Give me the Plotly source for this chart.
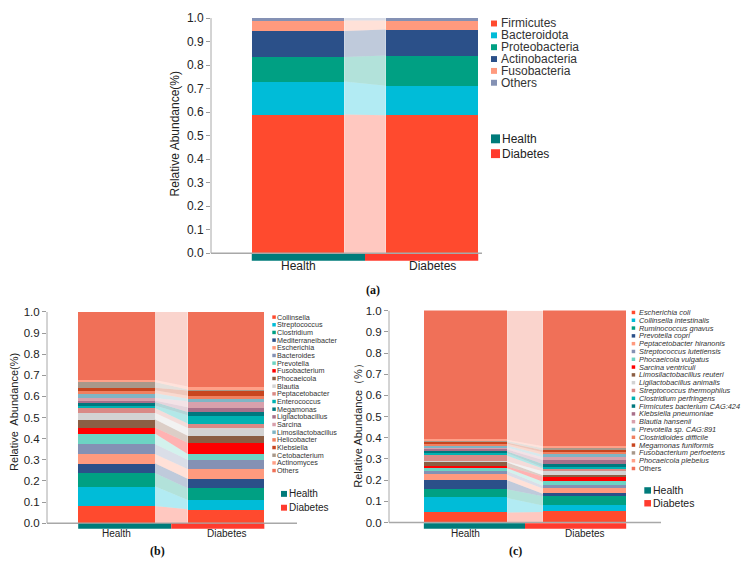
import numpy as np
import plotly.graph_objects as go

W, H = 746, 564
FONT = "Arial, Liberation Sans, sans-serif"

# ---------------- data ----------------
groups = ["Health", "Diabetes"]
group_colors = ["#007B7A", "#FF3B2E"]

phyla = ["Firmicutes", "Bacteroidota", "Proteobacteria", "Actinobacteria", "Fusobacteria", "Others"]
phyla_health = [0.590, 0.140, 0.104, 0.111, 0.045, 0.010]
phyla_diabetes = [0.587, 0.125, 0.129, 0.110, 0.039, 0.010]
phyla_colors = ["#FF4A2E", "#00BCD8", "#00A083", "#2B5089", "#FF9A7E", "#8491B4"]

genera = ["Collinsella", "Streptococcus", "Clostridium", "Mediterraneibacter", "Escherichia",
          "Bacteroides", "Prevotella", "Fusobacterium", "Phocaeicola", "Blautia",
          "Peptacetobacter", "Enterococcus", "Megamonas", "Ligilactobacillus", "Sarcina",
          "Limosilactobacillus", "Helicobacter", "Klebsiella", "Cetobacterium", "Actinomyces", "Others"]
genus_health = [0.082, 0.093, 0.063, 0.046, 0.044, 0.047, 0.050, 0.028, 0.039, 0.031,
                0.022, 0.012, 0.016, 0.008, 0.012, 0.022, 0.014, 0.012, 0.027, 0.010, 0.322]
genus_diabetes = [0.066, 0.044, 0.056, 0.044, 0.047, 0.043, 0.028, 0.053, 0.033, 0.037,
                  0.021, 0.039, 0.015, 0.023, 0.028, 0.012, 0.014, 0.025, 0.005, 0.014, 0.353]

species = ["Escherichia coli", "Collinsella intestinalis", "Ruminococcus gnavus", "Prevotella copri",
           "Peptacetobacter hiranonis", "Streptococcus lutetiensis", "Phocaeicola vulgatus",
           "Sarcina ventriculi", "Limosilactobacillus reuteri", "Ligilactobacillus animalis",
           "Streptococcus thermophilus", "Clostridium perfringens", "Firmicutes bacterium CAG:424",
           "Klebsiella pneumoniae", "Blautia hansenii", "Prevotella sp. CAG:891",
           "Clostridioides difficile", "Megamonas funiformis", "Fusobacterium perfoetens",
           "Phocaeicola plebeius", "Others"]
species_health = [0.047, 0.069, 0.041, 0.043, 0.025, 0.018, 0.013, 0.009, 0.019, 0.004,
                  0.027, 0.012, 0.009, 0.009, 0.009, 0.009, 0.009, 0.006, 0.006, 0.006, 0.610]
species_diabetes = [0.050, 0.031, 0.043, 0.012, 0.025, 0.013, 0.019, 0.024, 0.006, 0.019,
                    0.013, 0.006, 0.015, 0.019, 0.012, 0.013, 0.012, 0.009, 0.010, 0.009, 0.640]

palette21 = ["#FF4A2E", "#00BCD8", "#00A083", "#2B5089", "#FF9A7E", "#8491B4", "#6DD3C3",
             "#FF0000", "#8B5E44", "#D3D3D3", "#D98A86", "#00B2B2", "#00787F", "#A8708A",
             "#D8A0AC", "#7FB5C5", "#F08060", "#C8451F", "#A8988A", "#FFA088", "#F07058"]

y_ticks = [round(v, 1) for v in np.arange(0, 1.01, 0.1)]
y_ticktext = [f"{v:.1f}" for v in y_ticks]


def rgba(hexc, a):
    hexc = hexc.lstrip("#")
    r, g, b = int(hexc[0:2], 16), int(hexc[2:4], 16), int(hexc[4:6], 16)
    return f"rgba({r},{g},{b},{a})"


def px(x):
    return x / W


def py(y):
    return 1 - y / H


panels = [
    dict(tag="(a)", xa="x", ya="y", cats=phyla, h=phyla_health, d=phyla_diabetes, colors=phyla_colors,
         xpx=(211, 482), ytop=11, yzero=249.3, centers=(298, 432), bw=0.69, gb=(-0.003, -0.032),
         tickfs=12, xfs=12, xly=262, title="Relative Abundance(%)", tpos=(175, 129), tfs=12,
         leg=dict(sq=(491, 497), tx=500, y0=16.7, step=12.0, fs=12, italic=False,
                  gsq=(491, 500), gtx=501, gy=(133.5, 148.5), gfs=12, gsz=9),
         lab=(373, 287)),
    dict(tag="(b)", xa="x2", ya="y2", cats=genera, h=genus_health, d=genus_diabetes, colors=palette21,
         xpx=(47, 297), ytop=308.5, yzero=522.7, centers=(116.5, 226), bw=0.70, gb=(-0.003, -0.026),
         tickfs=11.5, xfs=10, xly=533, title="Relative  Abundance(%)", tpos=(14, 410), tfs=11,
         leg=dict(sq=(272.3, 275.8), tx=276, y0=314, step=7.77, fs=7.2, italic=False,
                  gsq=(281, 287), gtx=287.5, gy=(493, 507), gfs=10, gsz=6),
         lab=(157, 551)),
    dict(tag="(c)", xa="x3", ya="y3", cats=species, h=species_health, d=species_diabetes, colors=palette21,
         xpx=(389, 661), ytop=307.3, yzero=522, centers=(465.5, 584.5), bw=0.70, gb=(-0.003, -0.029),
         tickfs=11.5, xfs=10, xly=533, title="Relative Abundance（%）", tpos=(358, 421), tfs=11,
         leg=dict(sq=(631.7, 635.2), tx=638, y0=309.3, step=7.9, fs=7.4, italic=True,
                  gsq=(644.3, 651), gtx=651.5, gy=(489.5, 502.5), gfs=10.5, gsz=6.5),
         lab=(515, 551)),
]

fig = go.Figure()
shapes = []
annotations = []
layout_axes = {}
YMIN = -0.04

for p in panels:
    xa, ya = p["xa"], p["ya"]
    bw = p["bw"]
    h = np.array(p["h"], dtype=float)
    d = np.array(p["d"], dtype=float)
    ch = np.concatenate([[0], np.cumsum(h)])
    cd = np.concatenate([[0], np.cumsum(d)])
    # flows between bars
    for i, (cat, col) in enumerate(zip(p["cats"], p["colors"])):
        fig.add_trace(go.Scatter(
            x=[bw / 2, 1 - bw / 2, 1 - bw / 2, bw / 2, bw / 2],
            y=[ch[i], cd[i], cd[i + 1], ch[i + 1], ch[i]],
            fill="toself", fillcolor=rgba(col, 0.3), mode="lines", line=dict(width=0),
            xaxis=xa, yaxis=ya, showlegend=False, hoverinfo="skip"))
    # stacked bars
    for i, (cat, col) in enumerate(zip(p["cats"], p["colors"])):
        fig.add_trace(go.Bar(
            x=[0, 1], y=[h[i], d[i]], width=bw, name=cat, marker=dict(color=col, line=dict(width=0)),
            xaxis=xa, yaxis=ya, showlegend=False))

    # axes
    c0, c1 = p["centers"]
    unit = c1 - c0
    xr = [(p["xpx"][0] - c0) / unit, (p["xpx"][1] - c0) / unit]
    uy = p["yzero"] - p["ytop"]
    ybot_px = p["yzero"] + (-YMIN) * uy
    xkey = "xaxis" if xa == "x" else "xaxis" + xa[1:]
    ykey = "yaxis" if ya == "y" else "yaxis" + ya[1:]
    layout_axes[xkey] = dict(domain=[px(p["xpx"][0]), px(p["xpx"][1])], range=xr, anchor=ya,
                             showticklabels=False, showgrid=False, zeroline=False,
                             showline=False, ticks="", fixedrange=True)
    layout_axes[ykey] = dict(domain=[py(ybot_px), py(p["ytop"])], range=[YMIN, 1.001], anchor=xa,
                             tickvals=y_ticks, ticktext=y_ticktext, showgrid=False, zeroline=False,
                             showline=False, ticks="outside", ticklen=4, tickcolor="#9A9A9A", tickwidth=1,
                             tickfont=dict(size=p["tickfs"], color="#222", family=FONT), fixedrange=True)
    # group category labels under the bars
    for gi, g in enumerate(groups):
        annotations.append(dict(text=g, x=gi, y=py(p["xly"]), xref=xa, yref="paper", showarrow=False,
                                xanchor="center", yanchor="middle", borderpad=0,
                                font=dict(size=p["xfs"], color="#222", family=FONT)))
    # axis lines
    shapes.append(dict(type="line", xref=f"{xa} domain", yref=ya, x0=0, x1=0, y0=0, y1=1,
                       line=dict(color="#A8A8A8", width=1)))
    shapes.append(dict(type="line", xref=f"{xa} domain", yref=ya, x0=0, x1=1, y0=0, y1=0,
                       line=dict(color="#A8A8A8", width=1.5)))
    # group indicator bar
    g0, g1 = p["gb"]
    shapes.append(dict(type="rect", xref=xa, yref=ya, x0=-bw / 2, x1=0.5, y0=g1, y1=g0,
                       fillcolor=group_colors[0], line=dict(width=0)))
    shapes.append(dict(type="rect", xref=xa, yref=ya, x0=0.5, x1=1 + bw / 2, y0=g1, y1=g0,
                       fillcolor=group_colors[1], line=dict(width=0)))

    # y title
    annotations.append(dict(text=p["title"], x=px(p["tpos"][0]), y=py(p["tpos"][1]), xref="paper",
                            yref="paper", showarrow=False, textangle=-90, xanchor="center",
                            yanchor="middle", font=dict(size=p["tfs"], color="#222", family=FONT)))
    # panel label
    annotations.append(dict(text=f"<b>{p['tag']}</b>", x=px(p["lab"][0]), y=py(p["lab"][1]), xref="paper",
                            yref="paper", showarrow=False, xanchor="center", yanchor="middle",
                            font=dict(size=12, color="#111", family="Liberation Serif, serif")))

    # legend
    L = p["leg"]
    for i, (cat, col) in enumerate(zip(p["cats"], p["colors"])):
        yc = L["y0"] + i * L["step"]
        s = L["sq"][1] - L["sq"][0]
        shapes.append(dict(type="rect", xref="paper", yref="paper", x0=px(L["sq"][0]), x1=px(L["sq"][1]),
                           y0=py(yc + s / 2), y1=py(yc - s / 2), fillcolor=col, line=dict(width=0)))
        txt = f"<i>{cat}</i>" if (L["italic"] and cat != "Others") else cat
        annotations.append(dict(text=txt, x=px(L["tx"]), y=py(yc), xref="paper", yref="paper",
                                showarrow=False, xanchor="left", yanchor="middle", borderpad=0,
                                font=dict(size=L["fs"], color="#333", family=FONT)))
    for g, gc, gy in zip(groups, group_colors, L["gy"]):
        s = L["gsz"]
        shapes.append(dict(type="rect", xref="paper", yref="paper", x0=px(L["gsq"][0]), x1=px(L["gsq"][1]),
                           y0=py(gy + s / 2), y1=py(gy - s / 2), fillcolor=gc, line=dict(width=0)))
        annotations.append(dict(text=g, x=px(L["gtx"]), y=py(gy), xref="paper", yref="paper",
                                showarrow=False, xanchor="left", yanchor="middle", borderpad=0,
                                font=dict(size=L["gfs"], color="#222", family=FONT)))

fig.update_layout(
    width=W, height=H, margin=dict(l=0, r=0, t=0, b=0),
    paper_bgcolor="white", plot_bgcolor="white",
    barmode="stack", bargap=0, showlegend=False,
    shapes=shapes, annotations=annotations,
    font=dict(family=FONT, color="#222"),
    **layout_axes,
)

fig.write_html("out.html")
